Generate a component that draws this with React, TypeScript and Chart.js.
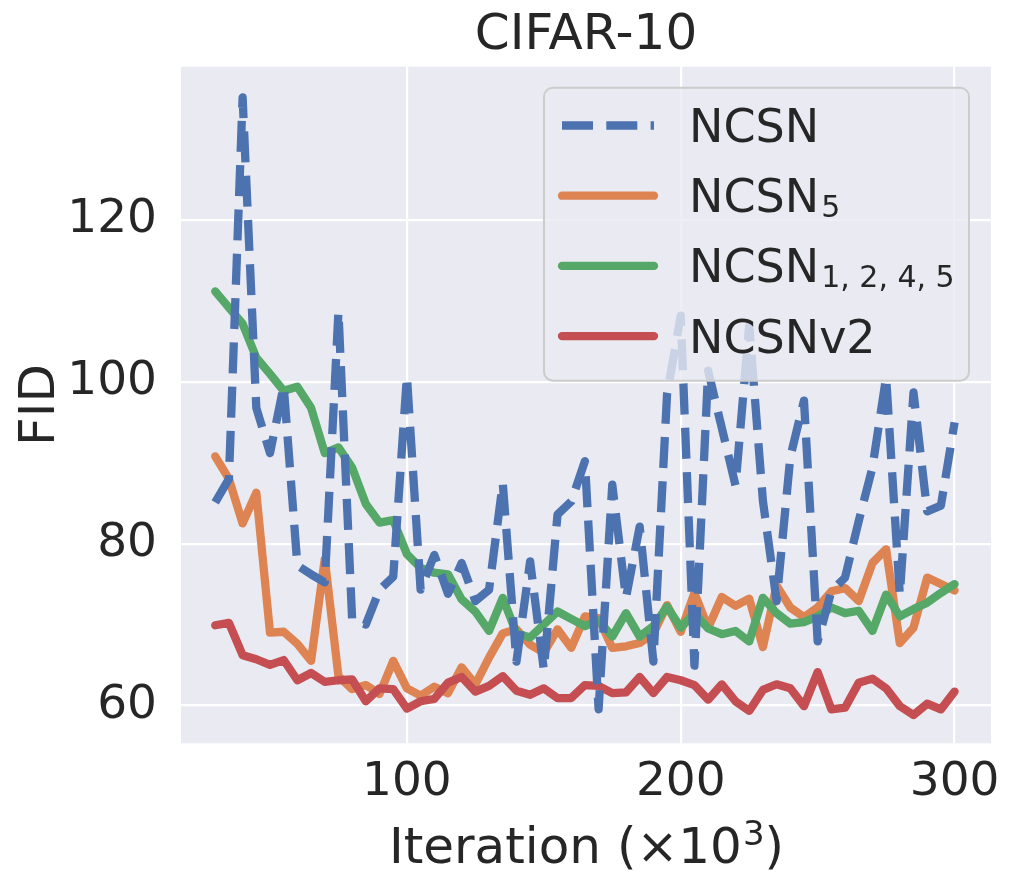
import React, { useEffect, useRef } from 'react';
import Chart from 'chart.js/auto';

// iterations (x1000), one point every 5k
const iterations = [
    30, 35, 40, 45, 50, 55, 60, 65, 70, 75, 80, 85, 90, 95, 100, 105, 110, 115, 120,
    125, 130, 135, 140, 145, 150, 155, 160, 165, 170, 175, 180, 185, 190, 195, 200,
    205, 210, 215, 220, 225, 230, 235, 240, 245, 250, 255, 260, 265, 270, 275, 280,
    285, 290, 295, 300,
];

const ncsn = [
    85.1, 88.0, 135.2, 96.8, 91.2, 99.5, 77.3, 76.2, 75.2, 108.7, 70.6, 70.0, 74.3, 75.9,
    100.7, 74.3, 78.6, 73.8, 77.6, 72.9, 74.3, 87.5, 65.4, 77.8, 64.4, 83.6, 85.2, 90.2,
    59.5, 87.3, 73.3, 82.1, 65.4, 98.5, 108.2, 64.9, 101.4, 94.3, 87.2, 107.0, 85.3, 72.9,
    90.7, 97.7, 67.9, 74.1, 75.8, 82.8, 89.4, 100.6, 73.7, 98.7, 84.0, 84.7, 95.0,
];

const ncsn5 = [
    90.8, 88.0, 82.5, 86.3, 69.0, 69.1, 67.6, 65.5, 78.1, 63.6, 62.0, 62.5, 61.4, 65.5,
    62.1, 61.2, 62.3, 61.5, 64.7, 62.6, 65.9, 68.9, 69.4, 67.5, 66.5, 69.4, 67.1, 71.0,
    70.8, 67.1, 67.3, 67.7, 68.9, 72.4, 69.1, 73.9, 69.6, 73.4, 72.3, 73.2, 67.2, 74.8,
    72.1, 70.9, 72.1, 74.1, 74.5, 72.9, 77.6, 79.3, 67.7, 69.6, 75.8, 75.0, 74.2,
];

const ncsn1245 = [
    111.2, 109.2, 107.2, 103.0, 101.0, 98.9, 99.4, 96.8, 91.2, 91.9, 89.4, 84.9, 82.6, 82.9,
    78.7, 77.0, 76.4, 76.2, 73.1, 71.6, 69.2, 73.3, 68.9, 68.4, 70.0, 71.6, 70.7, 69.8,
    70.5, 68.5, 71.4, 68.5, 69.8, 72.2, 69.6, 71.4, 69.5, 68.8, 69.2, 67.9, 73.3, 71.4,
    70.1, 70.3, 71.0, 72.1, 71.4, 71.7, 69.2, 73.7, 71.0, 71.9, 72.7, 73.9, 75.0,
];

const ncsnV2 = [
    69.9, 70.2, 66.2, 65.7, 65.0, 65.6, 63.1, 64.0, 62.9, 63.1, 63.2, 60.5, 62.1, 62.0,
    59.6, 60.5, 60.8, 62.8, 63.5, 61.7, 62.4, 63.6, 61.8, 61.3, 62.1, 60.9, 60.9, 62.5,
    62.4, 61.5, 61.6, 63.5, 61.5, 63.5, 63.1, 62.5, 60.7, 62.6, 60.5, 59.3, 61.9, 62.6,
    62.1, 59.9, 64.1, 59.5, 59.7, 62.8, 63.3, 62.1, 59.9, 58.8, 60.2, 59.5, 61.7,
];

const seriesNames = ['NCSN', 'NCSN', 'NCSN', 'NCSNv2'];
const seriesSubs = ['', '5', '1, 2, 4, 5', ''];
const xTicks = [100, 200, 300];
const yTicks = [60, 80, 100, 120];

const FONT = '"DejaVu Sans", sans-serif';
const TEXT = '#262626';

const toPoints = (vals: number[]) => iterations.map((x, i) => ({ x, y: vals[i] }));

// plot background, title, x label with superscript and the boxed legend
const decorPlugin = {
    id: 'decor',
    beforeDraw(chart: any) {
        const { ctx, chartArea: a } = chart;
        ctx.save();
        ctx.fillStyle = '#EAEAF2';
        ctx.fillRect(a.left, a.top, a.right - a.left, a.bottom - a.top);
        ctx.restore();
    },
    afterDraw(chart: any) {
        const { ctx, chartArea: a } = chart;
        const cx = (a.left + a.right) / 2;
        ctx.save();
        ctx.fillStyle = TEXT;
        ctx.font = `50px ${FONT}`;
        ctx.textAlign = 'center';
        ctx.textBaseline = 'middle';
        ctx.fillText('CIFAR-10', cx, 36);

        // x axis label: Iteration (×10^3)
        ctx.textAlign = 'left';
        ctx.textBaseline = 'alphabetic';
        const main = 'Iteration (×10';
        ctx.font = `50px ${FONT}`;
        const wMain = ctx.measureText(main).width;
        const wClose = ctx.measureText(')').width;
        ctx.font = `34px ${FONT}`;
        const wSup = ctx.measureText('3').width;
        const lx = cx - (wMain + wSup + wClose) / 2;
        const base = 863;
        ctx.font = `50px ${FONT}`;
        ctx.fillText(main, lx, base);
        ctx.fillText(')', lx + wMain + wSup + 1, base);
        ctx.font = `34px ${FONT}`;
        ctx.fillText('3', lx + wMain + 1, base - 18);

        const w = 425;
        const h = 293;
        const x0 = a.right - 22 - w;
        const y0 = a.top + 21;
        ctx.beginPath();
        ctx.roundRect(x0, y0, w, h, 9);
        ctx.fillStyle = 'rgba(234,234,242,0.8)';
        ctx.fill();
        ctx.lineWidth = 2;
        ctx.strokeStyle = '#cccccc';
        ctx.stroke();

        chart.data.datasets.forEach((ds: any, i: number) => {
            const y = y0 + 37.8 + i * 70.2;
            ctx.save();
            ctx.strokeStyle = ds.borderColor;
            ctx.lineWidth = ds.borderWidth;
            ctx.lineCap = ds.borderCapStyle;
            ctx.setLineDash(ds.borderDash || []);
            ctx.beginPath();
            ctx.moveTo(x0 + 18, y);
            ctx.lineTo(x0 + 110, y);
            ctx.stroke();
            ctx.restore();

            ctx.fillStyle = TEXT;
            ctx.textAlign = 'left';
            ctx.textBaseline = 'alphabetic';
            ctx.font = `46px ${FONT}`;
            const tx = x0 + 145;
            ctx.fillText(seriesNames[i], tx, y + 16.4);
            if (seriesSubs[i]) {
                const mw = ctx.measureText(seriesNames[i]).width;
                ctx.font = `30px ${FONT}`;
                ctx.fillText(seriesSubs[i], tx + mw + 2, y + 21.4);
            }
        });
        ctx.restore();
    },
};

const App: React.FC = () => {
    const canvasRef = useRef<HTMLCanvasElement | null>(null);
    const chartRef = useRef<Chart | null>(null);

    useEffect(() => {
        if (!canvasRef.current) return;
        if (chartRef.current) chartRef.current.destroy();

        const tickFont = { family: FONT, size: 47 };
        const titleFont = { family: FONT, size: 50 };

        chartRef.current = new Chart(canvasRef.current, {
            type: 'line',
            data: {
                datasets: [
                    {
                        label: 'NCSN',
                        data: toPoints(ncsn),
                        borderColor: '#4C72B0',
                        borderWidth: 8.3,
                        borderDash: [31, 13.3],
                        borderCapStyle: 'butt',
                        order: 0,
                    },
                    {
                        label: 'NCSN₅',
                        data: toPoints(ncsn5),
                        borderColor: '#DD8452',
                        borderWidth: 8.3,
                        borderCapStyle: 'round',
                        order: 3,
                    },
                    {
                        label: 'NCSN₁,₂,₄,₅',
                        data: toPoints(ncsn1245),
                        borderColor: '#55A868',
                        borderWidth: 8.3,
                        borderCapStyle: 'round',
                        order: 2,
                    },
                    {
                        label: 'NCSNv2',
                        data: toPoints(ncsnV2),
                        borderColor: '#C44E52',
                        borderWidth: 8.3,
                        borderCapStyle: 'round',
                        order: 1,
                    },
                ],
            },
            options: {
                responsive: false,
                animation: false,
                layout: { padding: { top: 66.7, right: 23, bottom: 0, left: 0 } },
                elements: {
                    point: { radius: 0, hoverRadius: 0 },
                    line: { tension: 0, borderJoinStyle: 'round', fill: false },
                },
                plugins: {
                    legend: { display: false },
                    title: { display: false },
                    tooltip: { enabled: false },
                },
                scales: {
                    x: {
                        type: 'linear',
                        min: 17.5,
                        max: 313.3,
                        afterBuildTicks: (s: any) => {
                            s.ticks = xTicks.map((v) => ({ value: v }));
                        },
                        afterFit: (s: any) => {
                            s.height = 144.7;
                            s.paddingLeft = 0;
                            s.paddingRight = 0;
                        },
                        grid: { color: '#ffffff', lineWidth: 2.2, drawTicks: false },
                        border: { display: false },
                        ticks: { font: tickFont, color: TEXT, padding: 11.3, maxRotation: 0, autoSkip: false },
                        title: { display: false },
                    },
                    y: {
                        type: 'linear',
                        min: 55.3,
                        max: 139.0,
                        afterBuildTicks: (s: any) => {
                            s.ticks = yTicks.map((v) => ({ value: v }));
                        },
                        afterFit: (s: any) => {
                            s.width = 181;
                            s.paddingTop = 0;
                            s.paddingBottom = 0;
                        },
                        grid: { color: '#ffffff', lineWidth: 2.2, drawTicks: false },
                        border: { display: false },
                        ticks: { font: tickFont, color: TEXT, padding: 24 },
                        title: {
                            display: true,
                            text: 'FID',
                            font: titleFont,
                            color: TEXT,
                            padding: { top: 11, bottom: 0 },
                        },
                    },
                },
            },
            plugins: [decorPlugin],
        } as any);

        return () => {
            if (chartRef.current) {
                chartRef.current.destroy();
                chartRef.current = null;
            }
        };
    }, []);

    return (
        <div style={{ position: 'absolute', left: 0, top: 0, width: 1014, height: 888, background: '#fff' }}>
            <canvas ref={canvasRef} width={1014} height={888} />
        </div>
    );
};

export default App;
